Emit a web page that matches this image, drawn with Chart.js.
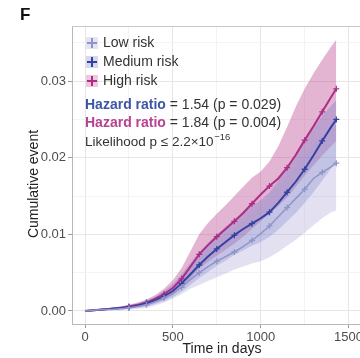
<!DOCTYPE html>
<html>
<head>
<meta charset="utf-8">
<script src="https://cdn.jsdelivr.net/npm/chart.js@4.4.0/dist/chart.umd.min.js"></script>
<style>
  html, body { margin: 0; padding: 0; background: #fff; }
  #wrap { width: 360px; height: 358px; position: relative; }
</style>
</head>
<body>
<div id="wrap"><canvas id="cumEvent"></canvas></div>
<script>
// Cumulative event curves (days vs cumulative incidence)
const days = [0, 50, 100, 150, 200, 250, 300, 350, 400, 450, 500, 550, 600, 650, 700, 750, 800, 850, 900, 950, 1000, 1050, 1100, 1150, 1200, 1250, 1300, 1350, 1400, 1430];

const lowRisk = [0, 0.0001, 0.0002, 0.0002, 0.0003, 0.0004, 0.0006, 0.0008, 0.0012, 0.0017, 0.0023, 0.0031, 0.0041, 0.0050, 0.0058, 0.0065, 0.0071, 0.0077, 0.0084, 0.0092, 0.0101, 0.0111, 0.0123, 0.0135, 0.0147, 0.0159, 0.0173, 0.0181, 0.0188, 0.0193];
const lowUpper = [0, 0.0002, 0.0003, 0.0004, 0.0005, 0.0006, 0.0009, 0.0012, 0.0018, 0.0025, 0.0034, 0.0045, 0.0058, 0.0070, 0.0081, 0.0091, 0.0100, 0.0108, 0.0117, 0.0127, 0.0138, 0.0150, 0.0163, 0.0176, 0.0190, 0.0204, 0.0218, 0.0228, 0.0238, 0.0244];
const lowLower = [0, 0, 0.0001, 0.0001, 0.0001, 0.0002, 0.0003, 0.0004, 0.0007, 0.0011, 0.0016, 0.0022, 0.0029, 0.0034, 0.0039, 0.0044, 0.0049, 0.0054, 0.0058, 0.0062, 0.0065, 0.0070, 0.0077, 0.0085, 0.0093, 0.0102, 0.0112, 0.0121, 0.0129, 0.0131];

const mediumRisk = [0, 0.0001, 0.0002, 0.0003, 0.0004, 0.0005, 0.0007, 0.0010, 0.0014, 0.0019, 0.0026, 0.0036, 0.0048, 0.0060, 0.0071, 0.0081, 0.0090, 0.0099, 0.0107, 0.0114, 0.0121, 0.0129, 0.0141, 0.0155, 0.0169, 0.0185, 0.0203, 0.0222, 0.0240, 0.0250];
const mediumUpper = [0, 0.0002, 0.0003, 0.0004, 0.0006, 0.0007, 0.0010, 0.0014, 0.0019, 0.0026, 0.0035, 0.0048, 0.0063, 0.0077, 0.0089, 0.0100, 0.0110, 0.0120, 0.0129, 0.0137, 0.0145, 0.0155, 0.0170, 0.0188, 0.0204, 0.0221, 0.0238, 0.0255, 0.0268, 0.0275];
const mediumLower = [0, 0, 0.0001, 0.0002, 0.0002, 0.0003, 0.0004, 0.0006, 0.0009, 0.0013, 0.0018, 0.0025, 0.0034, 0.0043, 0.0051, 0.0059, 0.0066, 0.0073, 0.0079, 0.0085, 0.0090, 0.0097, 0.0106, 0.0117, 0.0128, 0.0141, 0.0155, 0.0170, 0.0186, 0.0195];

const highRisk = [0, 0.0001, 0.0002, 0.0003, 0.0004, 0.0006, 0.0008, 0.0011, 0.0016, 0.0022, 0.0030, 0.0042, 0.0058, 0.0074, 0.0086, 0.0097, 0.0107, 0.0117, 0.0128, 0.0140, 0.0152, 0.0163, 0.0173, 0.0187, 0.0204, 0.0223, 0.0241, 0.0260, 0.0279, 0.0290];
const highUpper = [0, 0.0002, 0.0003, 0.0004, 0.0006, 0.0008, 0.0011, 0.0015, 0.0021, 0.0029, 0.0040, 0.0056, 0.0078, 0.0100, 0.0115, 0.0127, 0.0138, 0.0150, 0.0162, 0.0174, 0.0182, 0.0195, 0.0215, 0.0240, 0.0267, 0.0290, 0.0310, 0.0328, 0.0345, 0.0354];
const highLower = [0, 0, 0.0001, 0.0002, 0.0003, 0.0004, 0.0005, 0.0007, 0.0011, 0.0015, 0.0021, 0.0030, 0.0042, 0.0055, 0.0064, 0.0072, 0.0080, 0.0088, 0.0097, 0.0107, 0.0117, 0.0127, 0.0137, 0.0148, 0.0162, 0.0177, 0.0190, 0.0203, 0.0215, 0.0222];

const xTicks = [0, 500, 1000, 1500];
const xMinor = [250, 750, 1250];
const yTicks = [0, 0.01, 0.02, 0.03];
const yMinor = [0.005, 0.015, 0.025, 0.035];

const seriesNames = ["Low risk", "Medium risk", "High risk"];
const hazardRatios = ["1.54", "1.84"];
const hazardP = ["0.029", "0.004"];

const FONT = "'Liberation Sans', Arial, Helvetica, sans-serif";
const lineCols = ["#9094c6", "#34429f", "#ad2d86"];
const keyFills = ["rgba(170,165,215,0.3)", "rgba(90,100,190,0.25)", "rgba(196,76,150,0.3)"];

const pts = (arr) => arr.map((v, i) => ({ x: days[i], y: v }));

function bandPair(upper, lower, color, order) {
  return [
    { data: pts(upper), borderWidth: 0, pointRadius: 0, fill: "+1", backgroundColor: color, order: order },
    { data: pts(lower), borderWidth: 0, pointRadius: 0, fill: false, order: order },
  ];
}

function riskLine(vals, color, width) {
  return {
    data: pts(vals),
    borderColor: color,
    borderWidth: width,
    fill: false,
    tension: 0,
    pointStyle: "cross",
    pointBorderColor: color,
    pointBorderWidth: 1.3,
    pointRadius: (c) => (c.index > 4 && c.index % 2 === 1 ? 3 : 0),
    order: 1,
  };
}

// Top frame, legend and text annotations
const extras = {
  id: "extras",
  beforeDatasetsDraw(chart) {
    const { ctx, chartArea: a } = chart;
    ctx.save();
    ctx.strokeStyle = "#c8c8c8";
    ctx.lineWidth = 1;
    ctx.beginPath();
    ctx.moveTo(a.left, a.top + 0.5);
    ctx.lineTo(a.right, a.top + 0.5);
    ctx.stroke();
    ctx.restore();
  },
  afterDraw(chart) {
    const ctx = chart.ctx;
    ctx.save();
    ctx.textBaseline = "middle";

    // panel letter
    ctx.fillStyle = "#111";
    ctx.font = "bold 17px " + FONT;
    ctx.textAlign = "left";
    ctx.fillText("F", 20, 15);

    // legend
    ctx.font = "14px " + FONT;
    seriesNames.forEach((name, i) => {
      const cy = 43 + i * 19;
      ctx.fillStyle = keyFills[i];
      ctx.fillRect(86, cy - 6, 12, 12);
      ctx.strokeStyle = lineCols[i];
      ctx.lineWidth = 2;
      ctx.beginPath();
      ctx.moveTo(87, cy); ctx.lineTo(97, cy);
      ctx.moveTo(92, cy - 5); ctx.lineTo(92, cy + 5);
      ctx.stroke();
      ctx.fillStyle = "#333";
      ctx.fillText(name, 103, cy);
    });

    // hazard ratios
    const hrCols = ["#3f56a6", "#b8428f"];
    hazardRatios.forEach((hr, i) => {
      const cy = 105 + i * 18.5;
      ctx.font = "bold 14px " + FONT;
      ctx.fillStyle = hrCols[i];
      ctx.fillText("Hazard ratio", 85, cy);
      const w = ctx.measureText("Hazard ratio").width;
      ctx.font = "14px " + FONT;
      ctx.fillStyle = "#333";
      ctx.fillText(" = " + hr + " (p = " + hazardP[i] + ")", 85 + w, cy);
    });

    ctx.font = "13.5px " + FONT;
    ctx.fillStyle = "#333";
    const base = "Likelihood p \u2264 2.2\u00d710";
    ctx.fillText(base, 85, 142);
    const bw = ctx.measureText(base).width;
    ctx.font = "9.5px " + FONT;
    ctx.fillText("\u221216", 85 + bw + 0.5, 137);

    // axis titles
    ctx.font = "14px " + FONT;
    ctx.fillStyle = "#222";
    ctx.textAlign = "center";
    ctx.fillText("Time in days", 222, 349);
    ctx.translate(34, 184);
    ctx.rotate(-Math.PI / 2);
    ctx.fillText("Cumulative event", 0, 0);
    ctx.restore();
  },
};

const isMajor = (list, v) => list.some((t) => Math.abs(t - v) < 1e-9);

new Chart(document.getElementById("cumEvent"), {
  type: "line",
  data: {
    datasets: [
      ...bandPair(highUpper, highLower, "rgba(185,70,145,0.4)", 5),
      ...bandPair(mediumUpper, mediumLower, "rgba(95,105,195,0.28)", 4),
      ...bandPair(lowUpper, lowLower, "rgba(165,160,212,0.32)", 3),
      riskLine(lowRisk, lineCols[0], 1.5),
      riskLine(mediumRisk, lineCols[1], 2),
      riskLine(highRisk, lineCols[2], 2),
    ],
  },
  options: {
    responsive: true,
    maintainAspectRatio: false,
    animation: false,
    devicePixelRatio: 1,
    layout: { autoPadding: false, padding: { top: 26, left: 0, right: 0, bottom: 0 } },
    plugins: {
      legend: { display: false },
      tooltip: { enabled: false },
    },
    scales: {
      x: {
        type: "linear",
        min: -74,
        max: 1565,
        afterBuildTicks: (s) => {
          s.ticks = [...xTicks, ...xMinor].sort((a, b) => a - b).map((v) => ({ value: v }));
        },
        afterFit: (s) => {
          s.height = 34;
          s.paddingLeft = 0;
          s.paddingRight = 0;
        },
        ticks: {
          autoSkip: false,
          maxRotation: 0,
          padding: 2,
          color: "#4d4d4d",
          font: { family: FONT, size: 13 },
          callback: (v) => (isMajor(xTicks, v) ? String(v) : ""),
        },
        grid: {
          color: (c) => (c.tick && isMajor(xTicks, c.tick.value) ? "#e6e6e6" : "#f3f3f3"),
          tickColor: (c) => (c.tick && isMajor(xTicks, c.tick.value) ? "#9a9a9a" : "rgba(0,0,0,0)"),
          tickLength: 4,
          lineWidth: 1,
        },
        border: { color: "#b8b8b8", width: 1 },
      },
      y: {
        min: -0.0017,
        max: 0.0372,
        afterBuildTicks: (s) => {
          s.ticks = [...yTicks, ...yMinor].sort((a, b) => a - b).map((v) => ({ value: v }));
        },
        afterFit: (s) => {
          s.width = 72;
          s.paddingTop = 0;
          s.paddingBottom = 0;
        },
        ticks: {
          autoSkip: false,
          padding: 2,
          color: "#4d4d4d",
          font: { family: FONT, size: 13 },
          callback: (v) => (isMajor(yTicks, v) ? v.toFixed(2) : ""),
        },
        grid: {
          color: (c) => (c.tick && isMajor(yTicks, c.tick.value) ? "#e6e6e6" : "#f3f3f3"),
          tickColor: (c) => (c.tick && isMajor(yTicks, c.tick.value) ? "#9a9a9a" : "rgba(0,0,0,0)"),
          tickLength: 4,
          lineWidth: 1,
        },
        border: { color: "#b8b8b8", width: 1 },
      },
    },
  },
  plugins: [extras],
});
</script>
</body>
</html>
